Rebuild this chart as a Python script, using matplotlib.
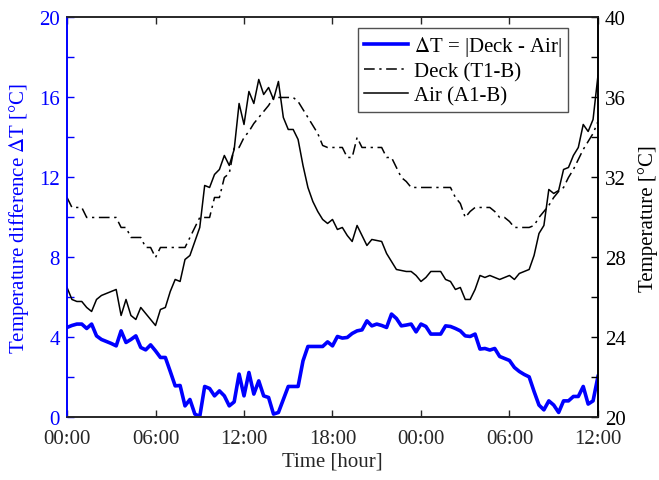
import matplotlib.pyplot as plt
import numpy as np

plt.rcParams['font.family'] = ['Liberation Serif', 'DejaVu Serif']
plt.rcParams['mathtext.fontset'] = 'stix'

# 20-minute samples over 36 hours (00:00 -> 12:00 next day)
hours = np.arange(109) / 3.0

delta_t = [4.5, 4.6, 4.67, 4.67, 4.45, 4.67, 4.08, 3.9, 3.8, 3.7,
           3.58, 4.33, 3.75, 3.9, 4.08, 3.5, 3.38, 3.63, 3.33, 3.0,
           3.0, 2.3, 1.58, 1.6, 0.58, 0.9, 0.17, 0.05, 1.55, 1.45,
           1.08, 1.33, 1.08, 0.58, 0.78, 2.17, 1.08, 2.25, 1.17, 1.83,
           1.08, 1.0, 0.17, 0.25, 0.9, 1.55, 1.55, 1.55, 2.83, 3.55,
           3.55, 3.55, 3.55, 3.78, 3.58, 4.05, 3.97, 4.0, 4.2, 4.33,
           4.38, 4.83, 4.58, 4.67, 4.6, 4.5, 5.17, 4.95, 4.58, 4.62,
           4.67, 4.28, 4.67, 4.55, 4.17, 4.17, 4.17, 4.58, 4.55, 4.45,
           4.33, 4.08, 4.05, 4.17, 3.42, 3.45, 3.37, 3.45, 3.05, 2.95,
           2.85, 2.5, 2.3, 2.15, 2.03, 1.3, 0.62, 0.38, 0.83, 0.62,
           0.25, 0.83, 0.83, 1.05, 1.05, 1.55, 0.67, 0.83, 2.05]

deck = [31.0, 30.5, 30.5, 30.5, 30.0, 30.0, 30.0, 30.0, 30.0, 30.0,
        30.0, 29.5, 29.5, 29.0, 29.0, 29.0, 28.5, 28.5, 28.0, 28.5,
        28.5, 28.5, 28.5, 28.5, 28.5, 29.0, 29.5, 30.0, 30.0, 30.0,
        31.0, 31.0, 32.0, 32.2, 33.5, 33.5, 34.0, 34.3, 34.7, 35.0,
        35.3, 35.6, 36.0, 36.0, 36.0, 36.0, 36.0, 35.8, 35.4, 35.0,
        34.6, 34.2, 33.6, 33.5, 33.5, 33.5, 33.5, 33.0, 33.0, 34.0,
        33.5, 33.5, 33.5, 33.5, 33.5, 33.0, 33.0, 32.5, 32.0, 31.8,
        31.5, 31.5, 31.5, 31.5, 31.5, 31.5, 31.5, 31.5, 31.5, 31.0,
        30.7, 30.0, 30.3, 30.5, 30.5, 30.5, 30.5, 30.3, 30.0, 30.0,
        29.8, 29.5, 29.5, 29.5, 29.5, 29.6, 30.0, 30.3, 30.6, 31.0,
        31.3, 31.5, 32.0, 32.4, 32.9, 33.4, 33.8, 34.2, 34.8]

air = [26.5, 25.9, 25.8, 25.8, 25.5, 25.3, 25.9, 26.1, 26.2, 26.3,
       26.4, 25.1, 25.9, 25.1, 24.9, 25.5, 25.2, 24.9, 24.6, 25.4,
       25.5, 26.3, 26.9, 26.8, 27.9, 28.1, 28.8, 29.5, 31.6, 31.5,
       32.15, 32.4, 33.1, 32.6, 33.4, 35.7, 34.65, 36.3, 35.7, 36.9,
       36.15, 36.5, 35.9, 36.8, 35.0, 34.4, 34.4, 33.9, 32.6, 31.5,
       30.8, 30.3, 29.9, 29.7, 29.9, 29.4, 29.5, 29.1, 28.8, 29.6,
       29.1, 28.6, 28.9, 28.85, 28.8, 28.2, 27.8, 27.4, 27.35, 27.3,
       27.3, 27.1, 26.8, 27.0, 27.3, 27.3, 27.3, 26.9, 26.8, 26.4,
       26.5, 25.9, 25.9, 26.4, 27.1, 27.0, 27.1, 27.0, 26.9, 27.0,
       27.1, 26.9, 27.2, 27.3, 27.4, 28.1, 29.2, 29.6, 31.4, 31.2,
       31.35, 32.4, 32.5, 33.1, 33.5, 34.65, 34.3, 34.9, 37.1]

x_ticks = [0, 6, 12, 18, 24, 30, 36]
x_labels = ['00:00', '06:00', '12:00', '18:00', '00:00', '06:00', '12:00']

dark = '#262626'
blue = '#0000ff'
fs = 15

fig = plt.figure(figsize=(6.59, 4.81), dpi=100)
ax = fig.add_axes([0.1017, 0.130, 0.8057, 0.8316])
ax2 = ax.twinx()

l1, = ax.plot(hours, delta_t, color=blue, lw=2.6,
              label=r'$\Delta$T = |Deck - Air|')
l2, = ax2.plot(hours, deck, color='black', lw=1.1,
               linestyle=(0, (7, 3, 1.5, 3)), label='Deck (T1-B)')
l3, = ax2.plot(hours, air, color='black', lw=1.1, label='Air (A1-B)')

ax.set_xlim(0, 36)
ax.set_ylim(0, 20)
ax2.set_ylim(20, 40)
ax.set_xticks(x_ticks)
ax.set_xticklabels(x_labels)
ax.set_yticks(np.arange(0, 21, 4))
ax.set_yticks(np.arange(0, 21, 2), minor=True)
ax2.set_yticks(np.arange(20, 41, 4))
ax2.set_yticks(np.arange(20, 41, 2), minor=True)

ax.tick_params(axis='x', direction='in', top=True, length=5, width=1,
               colors=dark, labelsize=fs, pad=8)
ax.tick_params(axis='y', which='both', direction='in', colors=blue,
               labelsize=fs, width=1, length=5, pad=5)
ax2.tick_params(axis='y', which='both', direction='in', colors='black',
                labelsize=fs, width=1, length=5, pad=5)
ax2.tick_params(axis='x', top=False, bottom=False)

for a in (ax, ax2):
    a.spines['bottom'].set_color(dark)
    a.spines['top'].set_color(dark)
    a.spines['left'].set_color(blue)
    a.spines['right'].set_color('black')
    for s in a.spines.values():
        s.set_linewidth(1.2)

ax.set_xlabel('Time [hour]', fontsize=fs, color=dark, labelpad=3)
ax.set_ylabel(r'Temperature difference $\Delta$T [°C]', fontsize=fs,
              color=blue, labelpad=6)
ax2.set_ylabel('Temperature [°C]', fontsize=fs, color='black', labelpad=9)

leg = ax2.legend(handles=[l1, l2, l3], loc='upper right',
                 bbox_to_anchor=(0.952, 0.985), fontsize=fs,
                 frameon=True, fancybox=False, borderpad=0.3,
                 labelspacing=0.2, handlelength=2.1, handletextpad=0.3,
                 borderaxespad=0.2)
leg.get_frame().set_edgecolor(dark)
leg.get_frame().set_linewidth(1.0)

plt.savefig('out.png', dpi=100)
